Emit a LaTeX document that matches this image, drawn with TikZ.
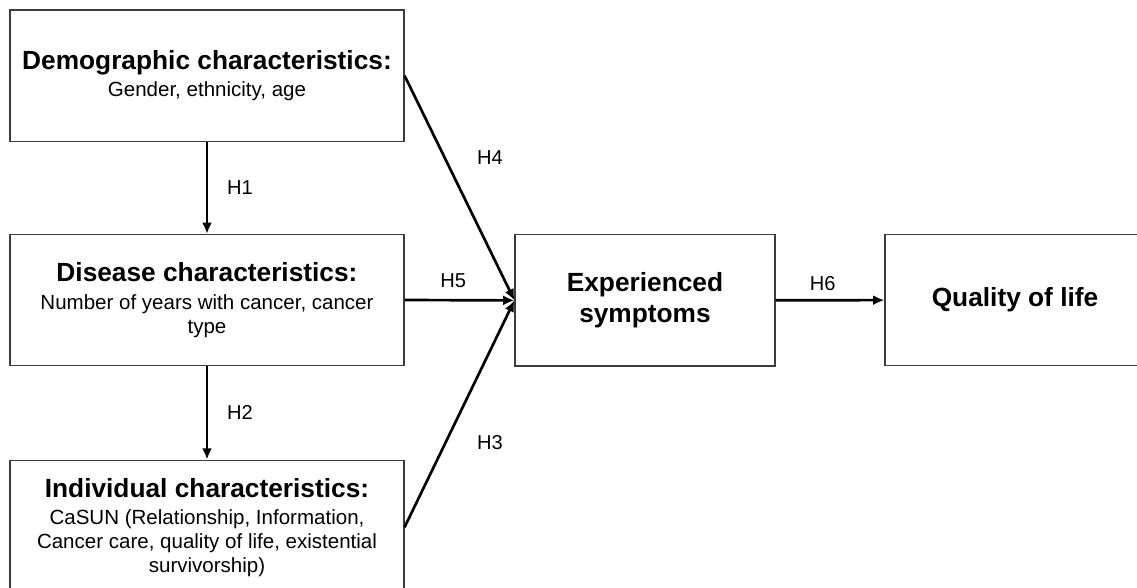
\documentclass[tikz,border=0pt]{standalone}
\usepackage{fontspec}
\setmainfont{Liberation Sans}
\usepackage{xcolor}
\definecolor{boxgray}{RGB}{60,60,60}
\usetikzlibrary{arrows.meta, positioning, calc}

\newcommand{\factorhead}[1]{{\fontsize{18.7}{21}\selectfont\bfseries #1}}

\begin{document}
\begin{tikzpicture}[>={Latex[length=8pt,width=7pt]},
    factor/.style={draw=boxgray, line width=0.8pt, align=center, inner sep=0pt,
        minimum width=9.85cm, minimum height=3.28cm,
        font=\fontsize{14.6}{16.8}\selectfont},
    outcome/.style={factor, minimum width=6.5cm},
    path/.style={->, line width=1.9pt, black},
    hyp/.style={font=\fontsize{14.3}{16.6}\selectfont}]
    \useasboundingbox (0,0) rectangle (28.425,-14.7);

    % left column
    \node[factor] (demo) at (5.175,-1.89) {\factorhead{Demographic characteristics:}\\[3pt] Gender, ethnicity, age};
    \node[factor] (disease) at (5.175,-7.5) {\factorhead{Disease characteristics:}\\[3pt] Number of years with cancer, cancer\\ type};
    \node[factor, minimum height=3.35cm] (indiv) at (5.175,-13.18) {\factorhead{Individual characteristics:}\\[3pt] CaSUN (Relationship, Information,\\ Cancer care, quality of life, existential\\ survivorship)};

    % outcomes
    \node[outcome] (symptoms) at (16.125,-7.51) {\factorhead{Experienced}\\[5pt] \factorhead{symptoms}};
    \node[outcome] (qol) at (25.375,-7.5) {\factorhead{Quality of life}};

    % hypotheses
    \draw[path] (demo) -- (disease) node[midway, right=0.35cm, hyp] (h1) {H1};
    \draw[path] (disease) -- (indiv) node[midway, right=0.35cm, hyp] (h2) {H2};
    \draw[path] (demo.east) -- (symptoms.west) node[midway, xshift=0.76cm, yshift=0.76cm, hyp] (h4) {H4};
    \draw[path] (disease.east) -- (symptoms.west) node[midway, above=0.17cm, xshift=-0.16cm, hyp] (h5) {H5};
    \draw[path] (indiv.east) -- (symptoms.west) node[midway, xshift=0.76cm, yshift=-0.73cm, hyp] (h3) {H3};
    \draw[path] (symptoms) -- (qol) node[midway, above=0.08cm, xshift=-0.18cm, hyp] (h6) {H6};
\end{tikzpicture}
\end{document}
